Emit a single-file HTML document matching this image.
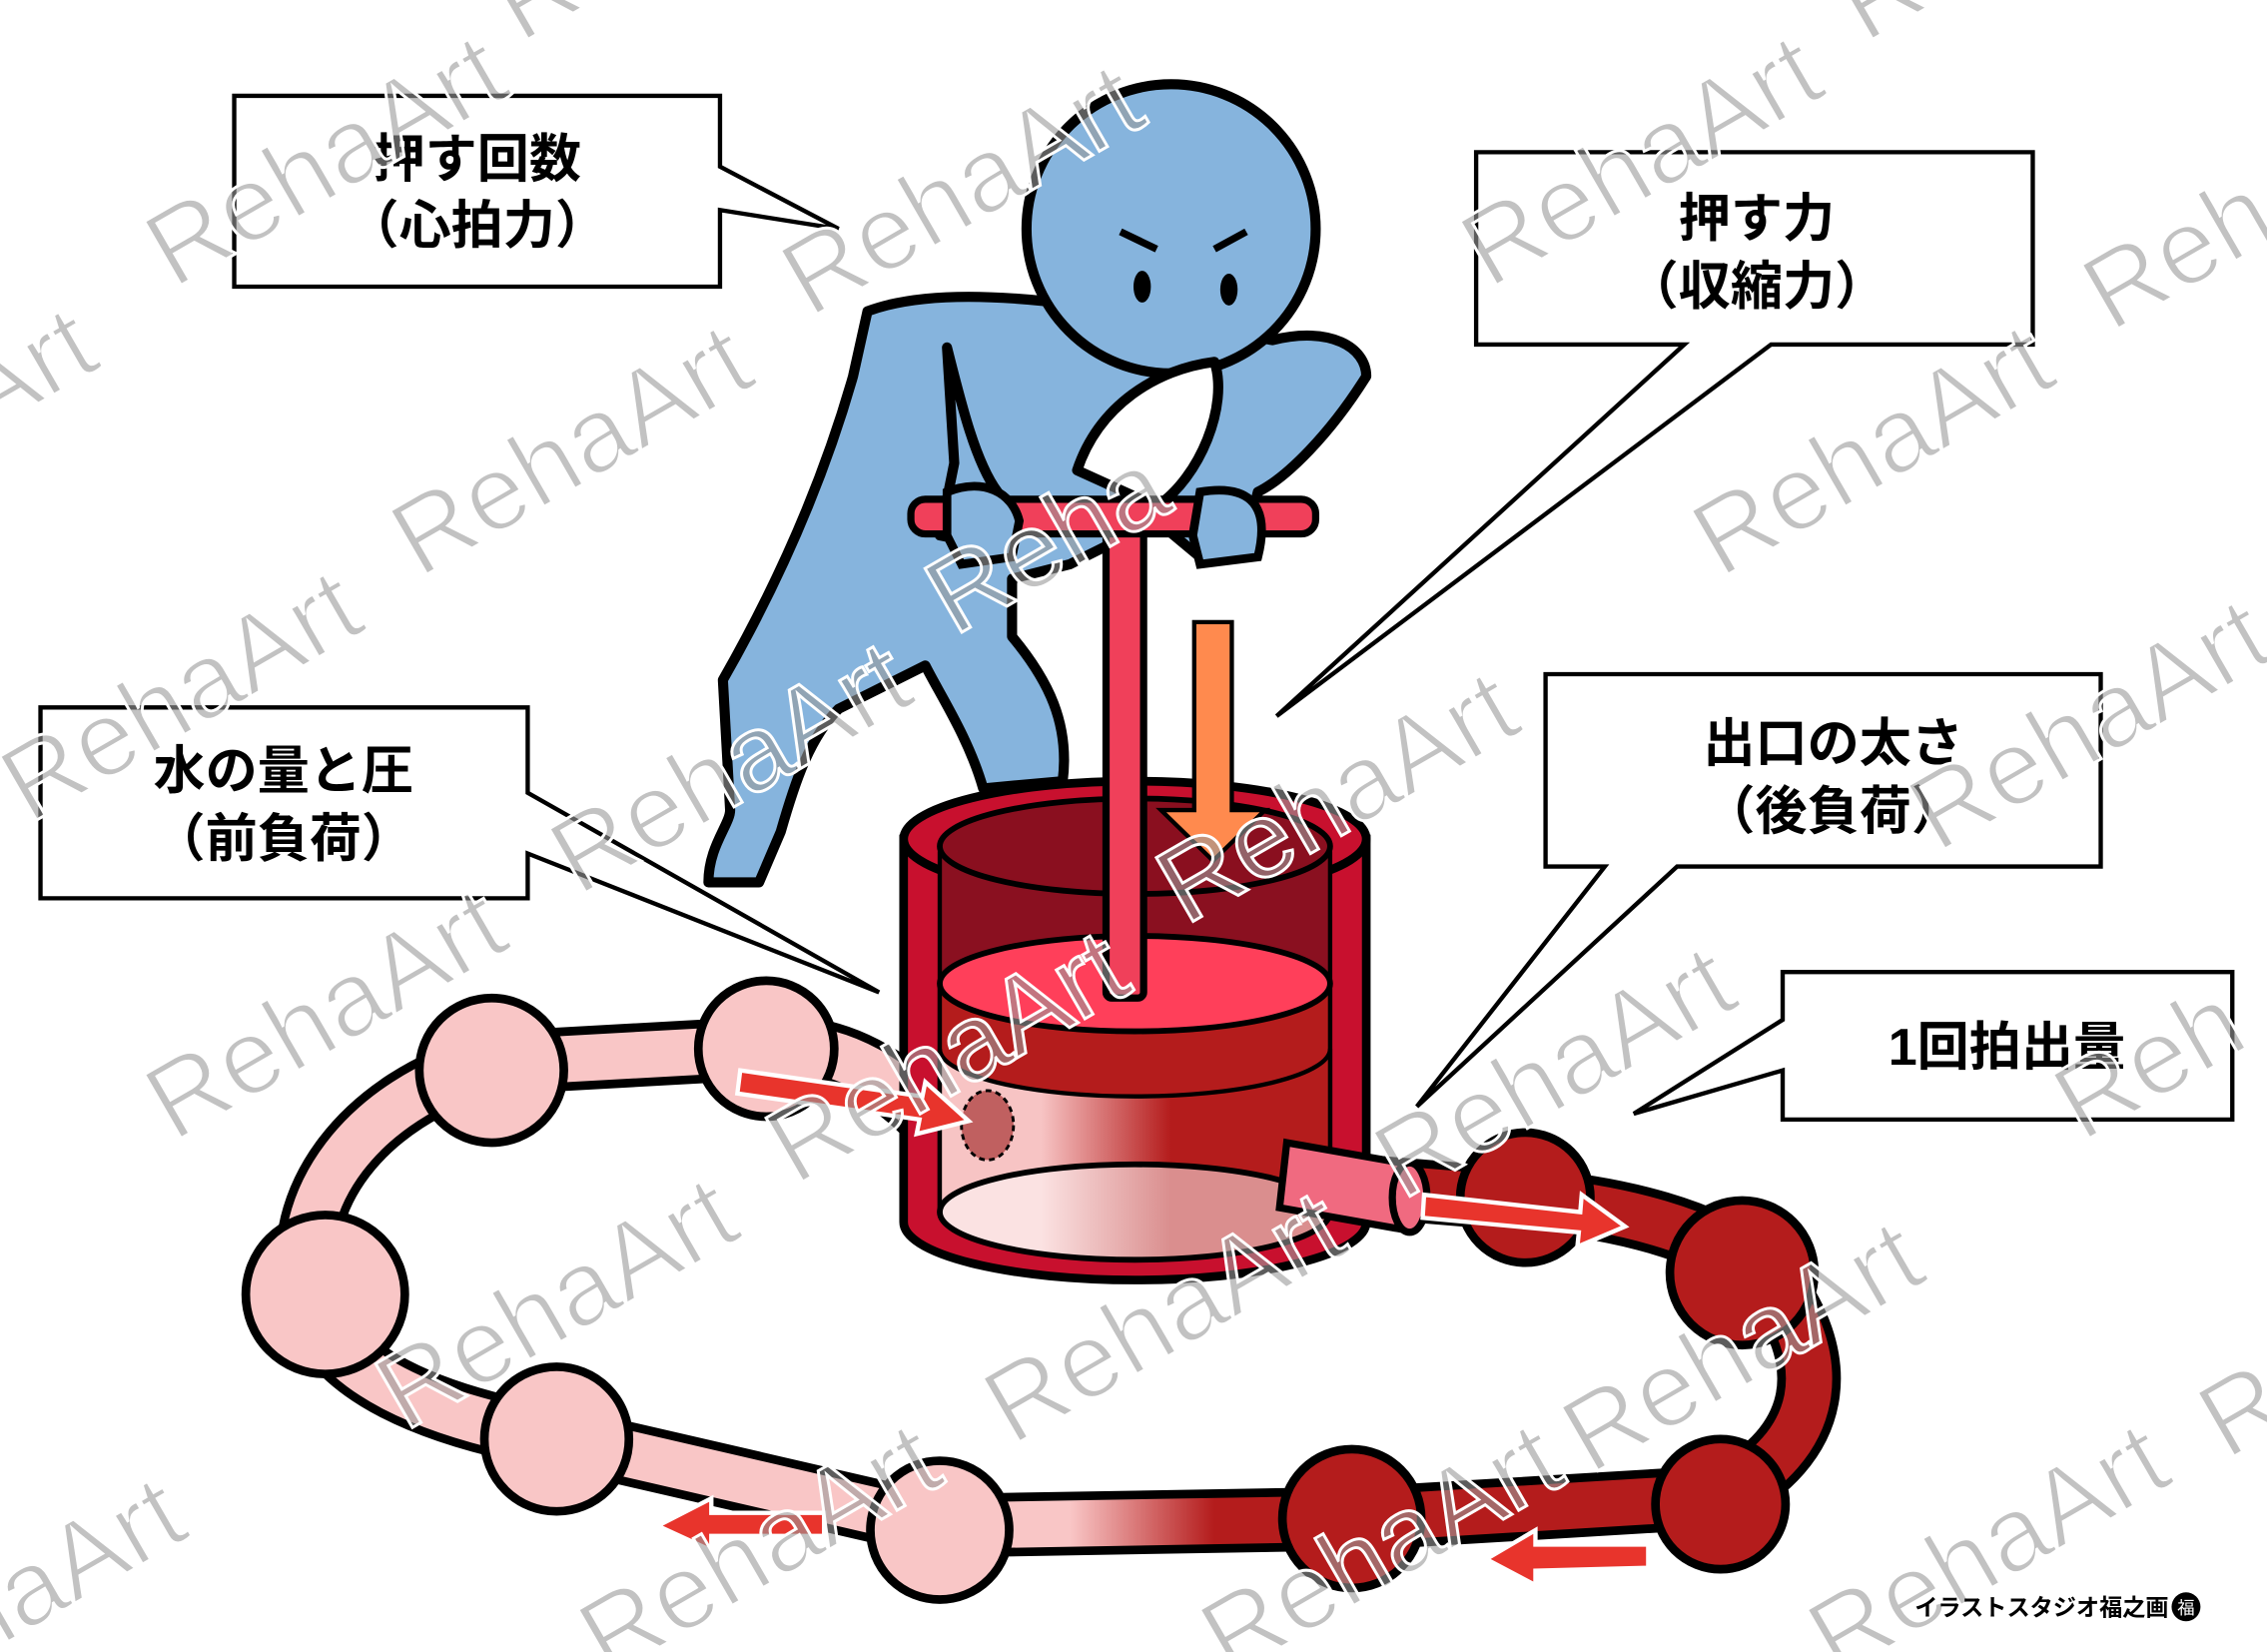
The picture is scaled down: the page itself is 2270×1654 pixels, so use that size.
<!DOCTYPE html>
<html><head><meta charset="utf-8"><style>
html,body{margin:0;padding:0;background:#fff;}
svg{display:block;}
text{font-family:"Liberation Sans","Noto Sans CJK JP",sans-serif;}
</style></head><body>
<svg width="2270" height="1654" viewBox="0 0 1568 1142" xmlns="http://www.w3.org/2000/svg">
<defs>
<linearGradient id="tg" gradientUnits="userSpaceOnUse" x1="740" y1="0" x2="840" y2="0">
<stop offset="0" stop-color="#f9c6c6"/><stop offset="1" stop-color="#b41c1c"/></linearGradient>
<linearGradient id="cg" gradientUnits="userSpaceOnUse" x1="720" y1="0" x2="810" y2="0">
<stop offset="0" stop-color="#f7c4c4"/><stop offset="1" stop-color="#b41c1c"/></linearGradient>
</defs>
<rect width="1568" height="1142" fill="#fff"/>

<!-- tube loop -->
<g stroke-linejoin="round" stroke-linecap="round" fill="none">
<path d="M640,770 C600,730 560,720 520,725 L340,735 C250,760 200,830 215,895 C225,950 300,980 390,995 L650,1055 L940,1050 L1190,1035 C1260,1000 1270,940 1220,880 C1180,850 1120,835 1060,830 L940,820" stroke="#000" stroke-width="44"/>
<path d="M640,770 C600,730 560,720 520,725 L340,735 C250,760 200,830 215,895 C225,950 300,980 390,995 L650,1055 L940,1050 L1190,1035 C1260,1000 1270,940 1220,880 C1180,850 1120,835 1060,830 L940,820" stroke="url(#tg)" stroke-width="32"/>
</g>
<g stroke="#000" stroke-width="6">
<circle cx="340" cy="740" r="50" fill="#f9c6c6"/>
<circle cx="530" cy="725" r="47" fill="#f9c6c6"/>
<circle cx="225" cy="895" r="55" fill="#f9c6c6"/>
<circle cx="385" cy="995" r="50" fill="#f9c6c6"/>
<circle cx="650" cy="1058" r="48" fill="#f9c6c6"/>
<circle cx="935" cy="1050" r="48" fill="#b41c1c"/>
<circle cx="1190" cy="1040" r="45" fill="#b41c1c"/>
<circle cx="1205" cy="880" r="50" fill="#b41c1c"/>
<circle cx="1055" cy="828" r="45" fill="#b41c1c"/>
</g>

<!-- person -->
<g stroke="#000" stroke-width="7" stroke-linejoin="round" fill="#86b4dd">
<path d="M600,215 C640,200 700,205 740,210 L880,235 C920,225 945,240 945,260 C920,300 890,330 870,340 L860,380 L830,385 L800,360 L740,390 L700,400 L700,440 C725,470 740,500 735,540 L680,545 C670,510 650,480 640,460 L580,490 C560,510 550,540 540,575 L525,610 L490,610 C490,585 505,570 505,560 L500,470 C540,400 570,330 590,260 Z"/>
<path d="M655,240 C665,280 675,320 690,340 L675,375 L650,370 L660,320 Z"/>
<circle cx="810" cy="158" r="100"/>
<path d="M745,325 C760,280 800,255 840,250 C850,280 830,330 800,350 Z" fill="#fff"/>
</g>
<g fill="#000"><ellipse cx="790" cy="198" rx="6" ry="11"/><ellipse cx="850" cy="200" rx="6" ry="11"/></g>
<path d="M775,160 L800,172 M840,172 L862,160" stroke="#000" stroke-width="5"/>

<!-- pump -->
<g stroke="#000" stroke-width="6">
<path d="M625,580 L625,845 A160,40 0 0 0 945,845 L945,580 Z" fill="#c8102e"/>
<ellipse cx="785" cy="580" rx="160" ry="40" fill="#c8102e"/>
<path d="M650,590 L650,838 A135,33 0 0 0 920,838 L920,590 Z" fill="#8a1020" stroke-width="3"/>
<ellipse cx="785" cy="585" rx="135" ry="33" fill="#8a0f1f" stroke-width="4"/>
<path d="M650,680 L650,838 A135,33 0 0 0 920,838 L920,680 Z" fill="#b41c1c" stroke-width="3"/>
<path d="M650,725 L650,838 A135,33 0 0 0 920,838 L920,725 A135,33 0 0 1 650,725Z" fill="url(#cg)" stroke-width="3"/>
<ellipse cx="785" cy="680" rx="135" ry="33" fill="#ff3f5a" stroke-width="4"/>
<ellipse cx="785" cy="838" rx="135" ry="33" fill="#fff" fill-opacity="0.5" stroke-width="4"/>
</g>
<ellipse cx="683" cy="778" rx="18" ry="24" fill="#c06060" stroke="#000" stroke-width="2" stroke-dasharray="4,3"/>
<!-- outlet -->
<g stroke="#000" stroke-width="5">
<path d="M890,790 L975,805 L970,850 L885,835 Z" fill="#f06a80"/>
<ellipse cx="975" cy="828" rx="12" ry="24" fill="#f06a80"/>
</g>
<!-- handle -->
<g stroke="#000" stroke-width="5" fill="#f0405a">
<rect x="765" y="360" width="26" height="330" rx="4"/>
<rect x="630" y="345" width="280" height="24" rx="10"/>
</g>
<g stroke="#000" stroke-width="6" fill="#86b4dd">
<path d="M655,340 C680,330 700,340 705,360 L700,385 L665,390 L655,370 Z"/>
<path d="M830,340 C860,335 880,345 870,385 L830,390 L825,370 Z"/>
</g>
<!-- orange arrow -->
<path d="M826,430 L852,430 L852,560 L875,560 L839,595 L803,560 L826,560 Z" fill="#ff8a4e" stroke="#000" stroke-width="3"/>

<!-- arrows in tube -->
<g fill="#e8342c" stroke="#fff" stroke-width="3">
<path d="M512,740 L638,758 L640,748 L670,775 L634,784 L636,774 L510,756Z"/>
<path d="M985,826 L1093,838 L1094,826 L1124,848 L1091,862 L1092,852 L984,842Z"/>
<path d="M1140,1068 L1062,1068 L1062,1058 L1028,1078 L1062,1096 L1062,1086 L1140,1084Z"/>
<path d="M570,1046 L492,1046 L492,1036 L455,1055 L492,1072 L492,1062 L570,1062Z"/>
</g>

<!-- callouts -->
<g fill="#fff" stroke="#000" stroke-width="3">
<path d="M162,66 L498,66 L498,115 L580,158 L498,145 L498,198 L162,198 Z"/>
<path d="M1021,105 L1406,105 L1406,238 L1225,238 L883,495 L1165,238 L1021,238 Z"/>
<path d="M28,489 L365,489 L365,548 L608,686 L365,590 L365,621 L28,621 Z"/>
<path d="M1069,466 L1453,466 L1453,599 L1160,599 L980,765 L1110,599 L1069,599 Z"/>
<path d="M1233,672 L1544,672 L1544,774 L1233,774 L1233,740 L1130,770 L1233,705 Z"/>
</g>
<g font-size="36" font-weight="bold" fill="#000" text-anchor="middle">
<text x="330" y="122">押す回数</text><text x="330" y="168">（心拍力）</text>
<text x="1215" y="163">押す力</text><text x="1215" y="210">（収縮力）</text>
<text x="196" y="545">水の量と圧</text><text x="196" y="592">（前負荷）</text>
<text x="1268" y="526">出口の太さ</text><text x="1268" y="573">（後負荷）</text>
<text x="1388" y="736">1回拍出量</text>
</g>

<!-- watermarks -->
<g font-size="74" fill="#9a9a9a" fill-opacity="0.6" stroke="#fff" stroke-width="2">
<text transform="translate(120,200) rotate(-30)">RehaArt</text>
<text transform="translate(560,220) rotate(-30)">RehaArt</text>
<text transform="translate(1030,200) rotate(-30)">RehaArt</text>
<text transform="translate(1460,230) rotate(-30)">Reh</text>
<text transform="translate(290,400) rotate(-30)">RehaArt</text>
<text transform="translate(660,440) rotate(-30)">Reha</text>
<text transform="translate(1190,400) rotate(-30)">RehaArt</text>
<text transform="translate(20,570) rotate(-30)">RehaArt</text>
<text transform="translate(400,620) rotate(-30)">RehaArt</text>
<text transform="translate(820,640) rotate(-30)">RehaArt</text>
<text transform="translate(1340,590) rotate(-30)">RehaArt</text>
<text transform="translate(120,790) rotate(-30)">RehaArt</text>
<text transform="translate(550,820) rotate(-30)">RehaArt</text>
<text transform="translate(970,830) rotate(-30)">RehaArt</text>
<text transform="translate(1440,790) rotate(-30)">Reh</text>
<text transform="translate(280,990) rotate(-30)">RehaArt</text>
<text transform="translate(700,1000) rotate(-30)">RehaArt</text>
<text transform="translate(1100,1020) rotate(-30)">RehaArt</text>
<text transform="translate(1540,1010) rotate(-30)">R</text>
<text transform="translate(-20,1150) rotate(-30)">haArt</text>
<text transform="translate(420,1160) rotate(-30)">RehaArt</text>
<text transform="translate(850,1160) rotate(-30)">RehaArt</text>
<text transform="translate(1270,1160) rotate(-30)">RehaArt</text>
<text transform="translate(360,30) rotate(-30)">Re</text>
<text transform="translate(1290,30) rotate(-30)">Re</text>
<text transform="translate(-10,300) rotate(-30)">Art</text>
</g>
<text x="1500" y="1117" font-size="16" font-weight="bold" text-anchor="end" fill="#000">イラストスタジオ福之画</text>
<circle cx="1512" cy="1111" r="10" fill="#000"/>
<text x="1512" y="1116" font-size="12" fill="#fff" text-anchor="middle">福</text>
</svg>
</body></html>
